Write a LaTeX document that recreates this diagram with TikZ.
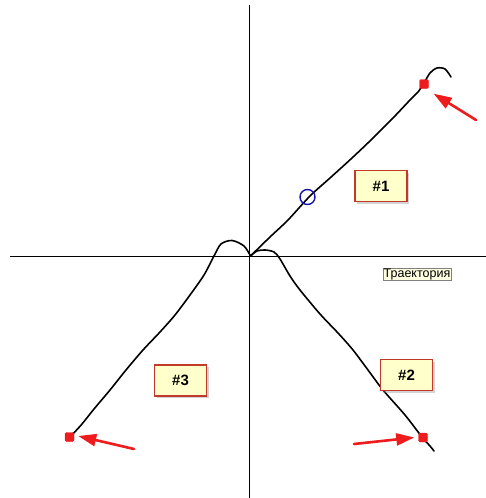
\documentclass[tikz,border=0pt]{standalone}
\usepackage{fontspec}
\setmainfont{Liberation Sans}
\usetikzlibrary{arrows.meta,shadows}
\definecolor{boxfill}{HTML}{FFFFCC}
\definecolor{boxedge}{HTML}{C0392B}
\definecolor{tipfill}{HTML}{FFFFE1}
\definecolor{marker}{HTML}{EE1C1C}
\tikzset{
  axis/.style={line width=1.3pt, black},
  traj/.style={line width=1.6pt, black, line cap=round, line join=round},
  tag/.style={draw=boxedge, line width=1.3pt, fill=boxfill, minimum width=52pt, minimum height=31pt,
     font=\bfseries\fontsize{15}{17}\selectfont, drop shadow={opacity=0.35, shadow xshift=2pt, shadow yshift=-2pt}},
  pin/.style={fill=marker, draw=marker, minimum size=9pt, inner sep=0pt, rounded corners=1.5pt},
  pointer/.style={draw=marker, line width=2.6pt, -{Triangle[length=18pt,width=12pt]}, line cap=round},
  tip/.style={draw=gray, fill=tipfill, line width=0.5pt, font=\fontsize{12.5}{13}\selectfont, inner sep=0.6pt},
}
\begin{document}
\begin{tikzpicture}[x=1pt,y=-1pt]
\useasboundingbox (0,0) rectangle (486,498);
% axes
\draw[axis] (249.5,5) -- (249.5,498);
\draw[axis] (10,256.5) -- (486,256.5);
% trajectory 1
\draw[traj] plot[smooth] coordinates {(250.5,256) (270,237) (288,220) (310,196) (330,178) (352,158) (372,139) (393,118) (410,100) (418,92) (424,83) (430,73) (437,68) (445,69) (451,77)};
% trajectory 2
\draw[traj] plot[smooth] coordinates {(250.5,256) (257,251) (265,250) (274,252) (280,259) (290,276) (300,290) (320,314) (338,333) (353,350) (368,370) (383,390) (405,415) (422,437) (430,446) (434,451)};
% trajectory 3
\draw[traj] plot[smooth] coordinates {(250.5,256) (244,246) (232,240.5) (221,244) (214,256) (204,275) (190,295) (175,315) (160,332) (143,350) (126,370) (110,390) (94,409) (82,424) (71,436)};
% circle
\node[draw={rgb,255:red,20;green,20;blue,170}, line width=1.4pt, circle, minimum size=15pt, inner sep=0pt] (c) at (307.5,197) {};
% end markers
\node[pin] (p1) at (424,84) {};
\node[pin] (p2) at (423,437.5) {};
\node[pin] (p3) at (69.5,437) {};
% arrows
\coordinate (a1) at (476,120);
\coordinate (a2) at (354,444);
\coordinate (a3) at (134,449);
\draw[pointer] (a1) -- ([shift={(5,5)}]p1.south east);
\draw[pointer] (a2) -- ([xshift=-4pt]p2.west);
\draw[pointer] (a3) -- ([xshift=4pt,yshift=1pt]p3.east);
% labels
\node[tag] (l1) at (381,186) {\#1};
\node[tag] (l2) at (406.5,375) {\#2};
\node[tag] (l3) at (180.5,380.5) {\#3};
\node[tip] (tr) at (417,274.5) {Траектория};
\end{tikzpicture}
\end{document}
